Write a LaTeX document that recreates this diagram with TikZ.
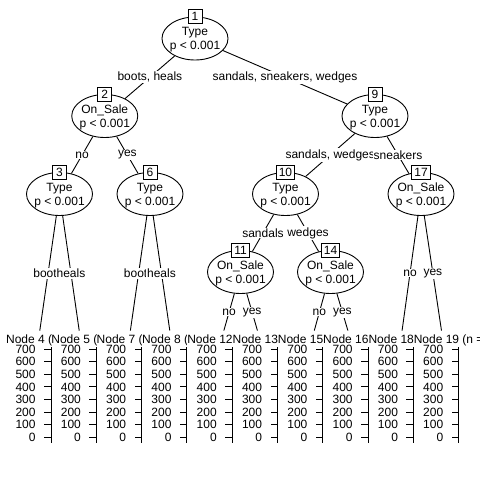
\documentclass[tikz,border=0pt]{standalone}
\usepackage{fontspec}
\setmainfont{Liberation Sans}
\usepackage{tikz}
\usetikzlibrary{shapes.geometric}

\begin{document}
\begin{tikzpicture}[
            x = 1pt, y = -1pt, % one unit per pixel, y runs down
            line width = 0.9pt
            ,
            every node/.style={font=\fontsize{12}{14}\selectfont}
            , every text node part/.style={align=center} % two line splits
        ]

        \tikzstyle{split}=[
            ellipse,
            draw = black,
            fill = white,
            inner xsep = -2pt,
            inner ysep = 0pt,
            text depth = 0pt,
            minimum width = 66pt,
            minimum height = 43pt
        ]
        \tikzstyle{idbox}=[draw = black, fill = white, minimum size = 14pt, inner sep = 2.5pt]
        \tikzstyle{lbl}=[fill = white, inner sep = 1pt]
        \tikzstyle{leaf}=[minimum width = 40pt, minimum height = 40pt, inner sep = 0pt]
        \tikzstyle{ticklab}=[anchor = east, inner sep = 0pt]

        \useasboundingbox (0,0) rectangle (480,480);

        % terminal panels
        \foreach \k/\n/\txt in {0/4/{Node 4 (}, 1/5/{Node 5 (}, 2/7/{Node 7 (}, 3/8/{Node 8 (}, 4/12/{Node 12 (},
                                5/13/{Node 13 (}, 6/15/{Node 15 (}, 7/16/{Node 16 (}, 8/18/{Node 18 (}, 9/19/{Node 19 (n =}}{
            \pgfmathsetmacro\cx{36.85+45.3*\k}
            \pgfmathsetmacro\ax{\cx+14.15}
            \pgfmathsetmacro\cr{\k==9 ? 480 : \ax}
            \node[leaf] (N\n) at (\cx,351) {};
            \begin{scope}
                \clip (\cx-31.4,328) rectangle (\cr,348);
                \node[anchor = base west, inner sep = 0pt] (L\n) at (\cx-31.2,343.5) {\txt};
            \end{scope}
            \draw (\ax,347) -- (\ax,443);
            \foreach \v in {0,100,...,700}
                \draw (\ax,437.3-0.126*\v) -- ++(-7,0) node[ticklab, xshift = -8pt] (T\n-\v) {\v};
        }

        \node[split] (N1) at (195,38.5) {Type \\ p < 0.001};
        \node[split] (N2) at (104.75,116) {On\_Sale \\ p < 0.001};
        \node[split] (N3) at (59.5,194) {Type \\ p < 0.001};
        \node[split] (N6) at (150,194) {Type \\ p < 0.001};
        \node[split] (N9) at (375,116) {Type \\ p < 0.001};
        \node[split] (N10) at (285.5,194) {Type \\ p < 0.001};
        \node[split] (N11) at (240.5,272) {On\_Sale \\ p < 0.001};
        \node[split] (N14) at (330.5,272) {On\_Sale \\ p < 0.001};
        \node[split] (N17) at (421,194) {On\_Sale \\ p < 0.001};

        \path (N1) edge node[lbl] (E2) {boots, heals} (N2);
        \path (N1) edge node[lbl] (E9) {sandals, sneakers, wedges} (N9);
        \path (N2) edge node[lbl] (E3) {no} (N3);
        \path (N2) edge node[lbl] (E6) {yes} (N6);
        \path (N9) edge node[lbl] (E10) {sandals, wedges} (N10);
        \path (N9) edge node[lbl] (E17) {sneakers} (N17);
        \path (N10) edge node[lbl] (E11) {sandals} (N11);
        \path (N10) edge node[lbl] (E14) {wedges} (N14);
        \path (N3) edge node[lbl] (E4) {boots} (N4);
        \path (N3) edge node[lbl] (E5) {heals} (N5);
        \path (N6) edge node[lbl] (E7) {boots} (N7);
        \path (N6) edge node[lbl] (E8) {heals} (N8);
        \path (N11) edge node[lbl] (E12) {no} (N12);
        \path (N11) edge node[lbl] (E13) {yes} (N13);
        \path (N14) edge node[lbl] (E15) {no} (N15);
        \path (N14) edge node[lbl] (E16) {yes} (N16);
        \path (N17) edge node[lbl] (E18) {no} (N18);
        \path (N17) edge node[lbl] (E19) {yes} (N19);

        \foreach \n in {1,2,3,6,9,10,11,14,17}
            \node[idbox] (B\n) at (N\n.north) {\n};

    \end{tikzpicture}
\end{document}
